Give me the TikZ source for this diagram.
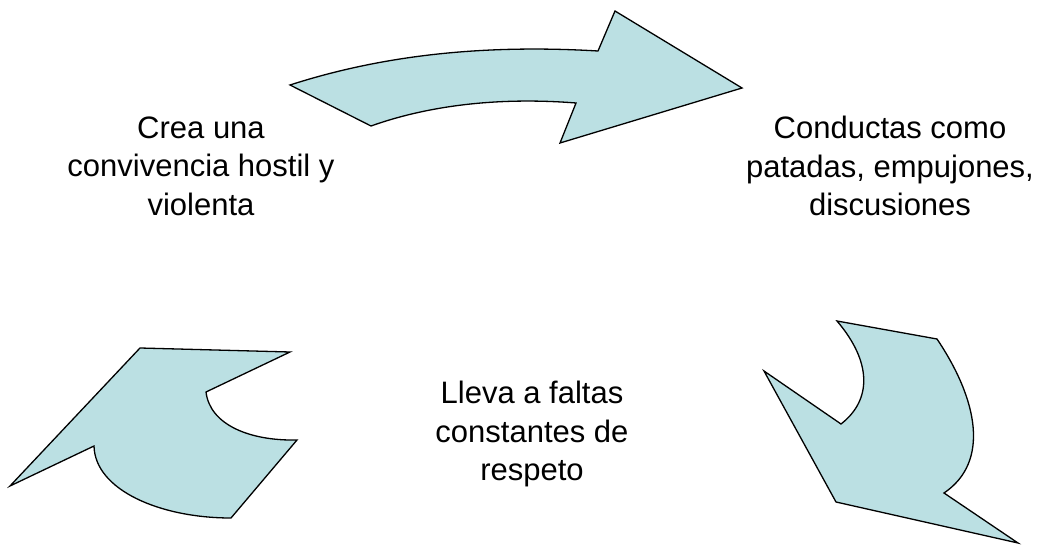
\documentclass[tikz,border=0pt]{standalone}
\usepackage{fontspec}
\setmainfont{Liberation Sans}
\definecolor{arrowfill}{RGB}{187,224,227}
\begin{document}
\begin{tikzpicture}[x=1pt,y=-1pt,
  arrowshape/.style={fill=arrowfill,draw=black,line width=1.3pt,line join=miter},
  label/.style={align=center,inner sep=0pt,font=\fontsize{31}{38.5}\selectfont}]
\useasboundingbox (0,0) rectangle (1042,545);
% top arrow
\draw[arrowshape] (290,85) .. controls (380,56) and (480,44) .. (598,51)
  -- (615,11) -- (742,88) -- (560,143) -- (576,103)
  .. controls (500,97) and (430,105) .. (371,126) -- cycle;
% bottom-left arrow
\draw[arrowshape] (140,348) -- (290,352) -- (206,392)
  .. controls (210,425) and (250,441) .. (297,440)
  -- (231,518) .. controls (160,518) and (95,490) .. (94,446)
  -- (10,486) -- cycle;
% bottom-right arrow
\draw[arrowshape] (837,321) -- (937,339)
  .. controls (978,400) and (990,462) .. (944,493)
  -- (1018,543) -- (836,502) -- (764,371) -- (841,424)
  .. controls (872,400) and (872,362) .. (837,321) -- cycle;
% texts
\node[label] (crea) at (201,166) {Crea una\\convivencia hostil y\\violenta};
\node[label] (cond) at (890,166) {Conductas como\\patadas, empujones,\\discusiones};
\node[label] (lleva) at (532,434) {Lleva a faltas\\constantes de\\respeto};
\end{tikzpicture}
\end{document}
